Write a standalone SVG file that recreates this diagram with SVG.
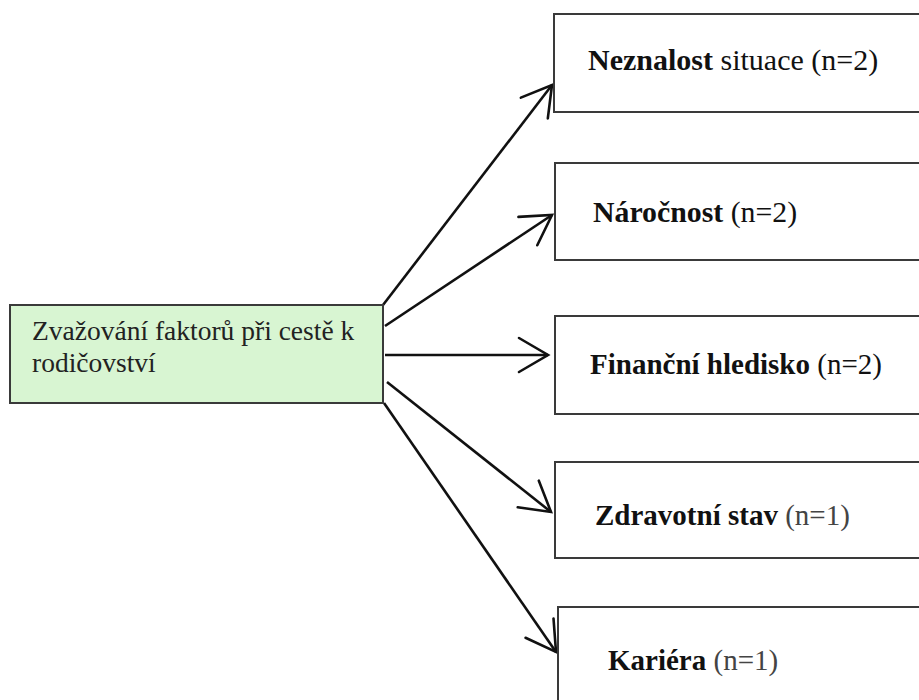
<svg xmlns="http://www.w3.org/2000/svg" width="919" height="700" viewBox="0 0 919 700">
<style>
.box{fill:#ffffff;stroke:#3a3a3a;stroke-width:2}
.src{fill:#d8f5d2;stroke:#3a3a3a;stroke-width:2}
.t{font-family:"Liberation Serif","Times New Roman",serif;font-size:29px;fill:#111}
.g{font-family:"Liberation Serif","Times New Roman",serif;font-size:27.5px;fill:#222}
.b{font-weight:bold}
.gray{fill:#444}
.con{fill:none;stroke:#111;stroke-width:2.6;marker-end:url(#arr)}
</style>
<defs>
<marker id="arr" markerUnits="userSpaceOnUse" markerWidth="40" markerHeight="40" refX="0" refY="0" orient="auto" overflow="visible">
<path d="M-29,-17 L0,0 L-29,17" fill="none" stroke="#111" stroke-width="2.6" stroke-linecap="round" stroke-linejoin="miter"/>
</marker>
</defs>
<rect width="919" height="700" fill="#ffffff"/>
<g id="connectors">
<line class="con" x1="383" y1="305" x2="552" y2="85"/>
<line class="con" x1="385" y1="326" x2="552" y2="215"/>
<line class="con" x1="385" y1="355" x2="548" y2="355"/>
<line class="con" x1="387" y1="382" x2="551" y2="512"/>
<line class="con" x1="384" y1="403" x2="556" y2="652"/>
</g>
<g id="source">
<rect class="src" x="10" y="305" width="373" height="98"/>
<text class="g" x="32" y="340">Zvažování faktorů při cestě k</text>
<text class="g" x="32" y="372">rodičovství</text>
</g>
<g id="n1">
<rect class="box" x="554" y="14" width="380" height="98"/>
<text class="t" x="588" y="70" style="font-size:30px"><tspan class="b">Neznalost</tspan> situace (n=2)</text>
</g>
<g id="n2">
<rect class="box" x="555" y="163" width="380" height="97"/>
<text class="t" x="593" y="222" style="font-size:29.8px"><tspan class="b">Náročnost</tspan> (n=2)</text>
</g>
<g id="n3">
<rect class="box" x="555" y="316" width="380" height="98"/>
<text class="t" x="590" y="374"><tspan class="b">Finanční hledisko</tspan> (n=2)</text>
</g>
<g id="n4">
<rect class="box" x="555" y="462" width="380" height="96"/>
<text class="t" x="595" y="525"><tspan class="b">Zdravotní stav</tspan><tspan class="gray"> (n=1)</tspan></text>
</g>
<g id="n5">
<rect class="box" x="558" y="607" width="380" height="110"/>
<text class="t" x="608" y="670"><tspan class="b">Kariéra</tspan><tspan class="gray"> (n=1)</tspan></text>
</g>
</svg>
